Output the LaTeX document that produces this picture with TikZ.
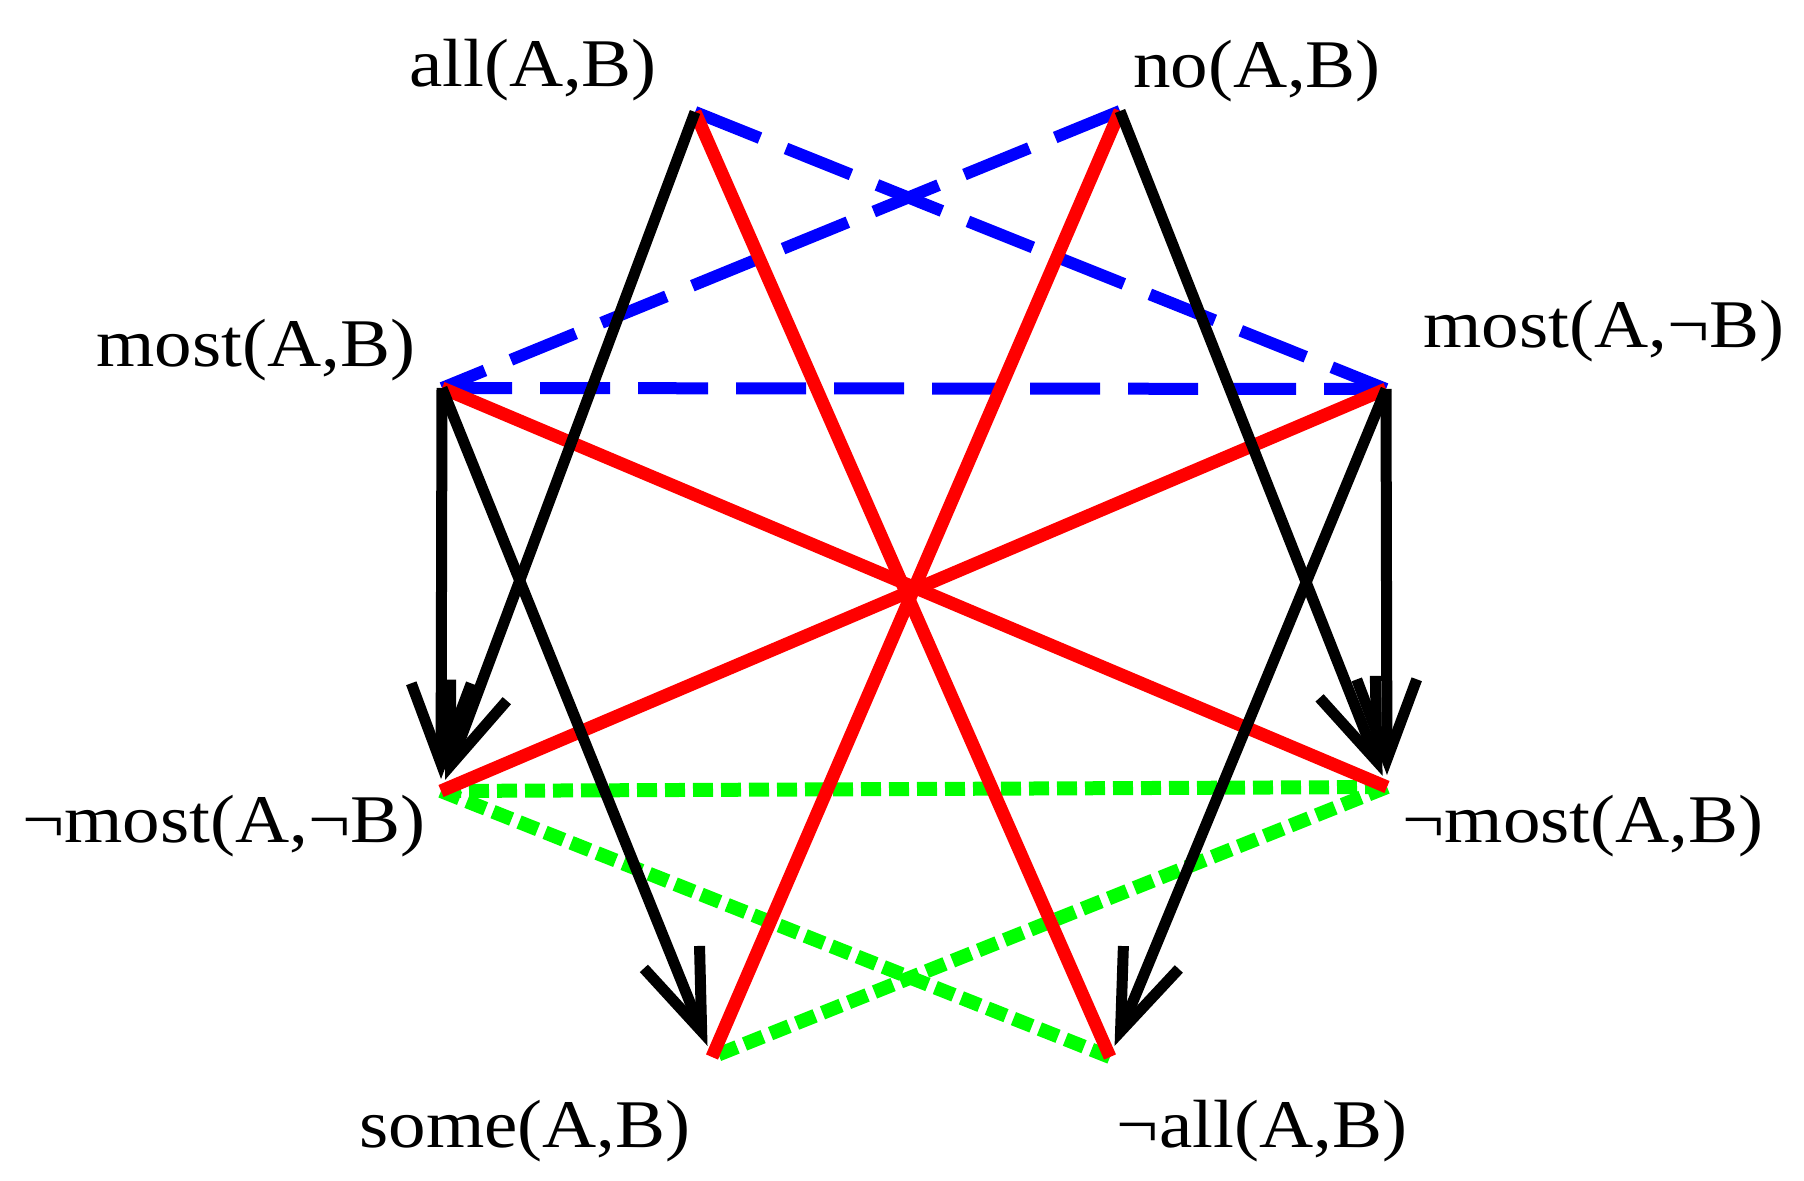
\documentclass[tikz,border=0pt]{standalone}
\usepackage{fontspec}
\setmainfont{Liberation Serif}
\usetikzlibrary{arrows.meta}

\begin{document}
\begin{tikzpicture}[
    lbl/.style={font=\fontsize{19.4}{23}\selectfont, xscale=1.1},
    contrary/.style={blue, line width=1.2mm, dash pattern=on 7mm off 2.8mm},
    subcontrary/.style={green, line width=1.4mm, dash pattern=on 2mm off 0.8mm},
    contradict/.style={red, line width=1.3mm},
    implies/.style={line width=1.1mm, -{Straight Barb[length=8mm,width=6mm]}, shorten >=1.2mm}]
    \useasboundingbox (0,0) rectangle (18.04,-11.81);

    % Vertices
    \coordinate (all) at (6.95,-1.12);
    \coordinate (no) at (11.20,-1.11);
    \coordinate (most) at (4.42,-3.88);
    \coordinate (mostn) at (13.86,-3.89);
    \coordinate (nmostn) at (4.41,-7.91);
    \coordinate (nmost) at (13.87,-7.87);
    \coordinate (some) at (7.12,-10.57);
    \coordinate (nall) at (11.10,-10.57);

    % Labels
    \node[lbl] at (5.33,-0.70) (allt) {all(A,B)};
    \node[lbl] at (12.57,-0.71) (not) {no(A,B)};
    \node[lbl] at (2.56,-3.50) (mostt) {most(A,B)};
    \node[lbl] at (16.04,-3.31) (mostnt) {most(A,¬B)};
    \node[lbl] at (2.24,-8.26) (nmostnt) {¬most(A,¬B)};
    \node[lbl] at (15.83,-8.26) (nmostt) {¬most(A,B)};
    \node[lbl] at (5.25,-11.31) (somet) {some(A,B)};
    \node[lbl] at (12.62,-11.31) (nallt) {¬all(A,B)};

    % Contraries
    \draw[contrary] (all) -- (mostn);
    \draw[contrary] (no) -- (most);
    \draw[contrary] (most) -- (mostn);

    % Subcontraries
    \draw[subcontrary] (nmostn) -- (nmost);
    \draw[subcontrary] (nmostn) -- (nall);
    \draw[subcontrary] (nmost) -- (some);

    % Contradictories
    \draw[contradict] (all) -- (nall);
    \draw[contradict] (no) -- (some);
    \draw[contradict] (most) -- (nmost);
    \draw[contradict] (mostn) -- (nmostn);

    % Arrows
    \draw[implies] (all) -- (nmostn);
    \draw[implies] (most) -- (nmostn);
    \draw[implies] (most) -- (some);
    \draw[implies] (no) -- (nmost);
    \draw[implies] (mostn) -- (nmost);
    \draw[implies] (mostn) -- (nall);
\end{tikzpicture}
\end{document}
